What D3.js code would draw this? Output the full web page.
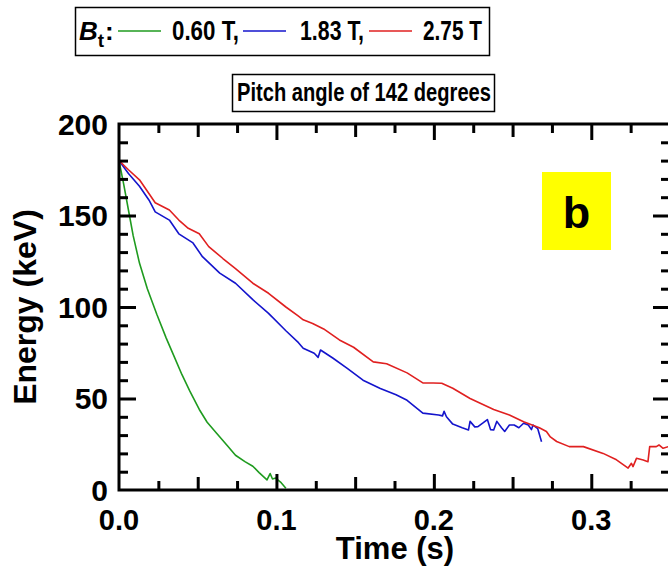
<!DOCTYPE html>
<head>
    <meta charset="utf-8">
    <title>Energy vs time, pitch angle 142</title>
    <style>
        body { margin: 0; background: #fff; }
        text { font-family: "Liberation Sans", Arial, sans-serif; font-weight: bold; fill: #000; }
        .line { fill: none; stroke-width: 1.6; stroke-linejoin: round; }
    </style>
</head>
<body>

<svg width="668" height="569"></svg>

<script src="https://d3js.org/d3.v7.min.js"></script>

<script>

// values
var fieldLabels = ['0.60 T,', '1.83 T,', '2.75 T'];
var colors = ['#1f9b1f', '#1414cc', '#e02020'];

var greenT = [0, 0.003, 0.006, 0.009, 0.013, 0.018, 0.024, 0.030, 0.035, 0.040, 0.045, 0.051, 0.056, 0.062, 0.069, 0.074, 0.080, 0.085, 0.089, 0.094, 0.096, 0.0975, 0.0995, 0.103, 0.106];
var greenE = [180, 167, 153, 139, 124, 110, 96, 83, 73, 63, 54, 44, 37, 31, 24, 19, 15.5, 13, 9.5, 5.5, 9, 6, 6.5, 4, 1];

var blueT = [0, 0.006, 0.013, 0.019, 0.023, 0.032, 0.038, 0.047, 0.053, 0.064, 0.074, 0.085, 0.095, 0.106, 0.114, 0.117, 0.124, 0.1265, 0.128, 0.136, 0.145, 0.155, 0.166, 0.176, 0.183, 0.193, 0.203, 0.2055, 0.2065, 0.208, 0.212, 0.218, 0.222, 0.223, 0.226, 0.228, 0.231, 0.234, 0.236, 0.238, 0.240, 0.243, 0.245, 0.248, 0.251, 0.254, 0.257, 0.260, 0.262, 0.263, 0.266, 0.2684];
var blueE = [180, 173, 166, 158.5, 152, 147.5, 140, 135, 127.5, 118.5, 113, 104, 96.5, 87, 80.5, 77.5, 74.7, 72.5, 76.5, 72, 66.5, 60, 55.5, 52, 49, 42, 41, 40.5, 43, 40, 36, 34, 32.8, 37.5, 34.5, 34.6, 36.5, 38.5, 33, 32.8, 37.5, 34, 32, 35.5, 35.5, 34, 36.5, 35.5, 33, 35.5, 33.5, 26.4];

var redT = [0, 0.006, 0.013, 0.019, 0.023, 0.032, 0.038, 0.044, 0.051, 0.057, 0.066, 0.074, 0.085, 0.095, 0.106, 0.114, 0.117, 0.123, 0.130, 0.140, 0.149, 0.1615, 0.170, 0.183, 0.193, 0.1995, 0.205, 0.212, 0.223, 0.238, 0.248, 0.257, 0.267, 0.2715, 0.274, 0.278, 0.286, 0.295, 0.3075, 0.316, 0.3234, 0.3255, 0.3265, 0.3287, 0.333, 0.336, 0.3371, 0.3413, 0.343, 0.3456, 0.349, 0.352];
var redE = [180, 175, 169.5, 162, 157, 153, 147.5, 143, 140, 133, 126.5, 121, 113, 107.5, 100, 95, 93, 91, 88, 82, 78, 70, 69, 64, 58.5, 58.5, 58.3, 55.6, 50, 44, 41, 37.3, 34, 32, 29, 26.5, 23.7, 23.7, 20, 16.5, 12, 14.6, 12.8, 17.3, 16.4, 15.5, 23.7, 23.7, 24.6, 22.8, 23.7, 23];

var xMajor = [0, 0.1, 0.2, 0.3];
var yMajor = [0, 50, 100, 150, 200];

var series = [
    { t: greenT, e: greenE },
    { t: blueT, e: blueE },
    { t: redT, e: redE }
];

var svg = d3.select('svg'),
    pLeft = 119, pRight = 670, pTop = 124, pBottom = 490;

var x = d3.scaleLinear().domain([0, 0.35]).range([pLeft, pRight]);
var y = d3.scaleLinear().domain([0, 200]).range([pBottom, pTop]);

svg.append('clipPath').attr('id', 'plotclip')
    .append('rect')
        .attr('x', pLeft).attr('y', pTop)
        .attr('width', pRight - pLeft).attr('height', pBottom - pTop);

// curves
var line = d3.line()
    .x(d => x(d[0]))
    .y(d => y(d[1]));

svg.append('g')
    .attr('clip-path', 'url(#plotclip)')
    .selectAll('.line')
    .data(series)
    .enter().append('path')
        .attr('class', 'line')
        .attr('stroke', (d, i) => colors[i])
        .attr('d', d => line(d.t.map((t, j) => [t, d.e[j]])));

// ticks on all four sides, pointing inward
function ticks(axis, values, size, pos) {
    var g = svg.append('g')
        .attr('transform', pos)
        .call(axis.tickValues(values).tickSize(-size).tickSizeOuter(0).tickFormat(''));
    g.select('.domain').remove();
    g.selectAll('.tick line').attr('stroke', '#000').attr('stroke-width', 3);
    return g;
}

var x25 = [0.025, 0.075, 0.125, 0.175, 0.225, 0.275, 0.325];
var x50 = [0.05, 0.15, 0.25];
var y10 = d3.range(10, 200, 10).filter(v => v % 50 != 0);
var yMid = [50, 100, 150];

ticks(d3.axisBottom(x), x25, 9, `translate(0,${pBottom})`);
ticks(d3.axisBottom(x), x50, 13, `translate(0,${pBottom})`);
ticks(d3.axisBottom(x), xMajor.slice(1), 16, `translate(0,${pBottom})`);
ticks(d3.axisTop(x), x25, 9, `translate(0,${pTop})`);
ticks(d3.axisTop(x), x50, 13, `translate(0,${pTop})`);
ticks(d3.axisTop(x), xMajor.slice(1), 16, `translate(0,${pTop})`);

ticks(d3.axisLeft(y), y10, 9, `translate(${pLeft},0)`);
ticks(d3.axisLeft(y), yMid, 17, `translate(${pLeft},0)`);
ticks(d3.axisRight(y), y10, 9, `translate(${pRight},0)`);
ticks(d3.axisRight(y), yMid, 17, `translate(${pRight},0)`);

// frame
svg.append('rect')
    .attr('x', pLeft).attr('y', pTop)
    .attr('width', pRight - pLeft).attr('height', pBottom - pTop)
    .attr('fill', 'none').attr('stroke', '#000').attr('stroke-width', 3);

// tick labels
svg.append('g').selectAll('text')
    .data(xMajor)
    .enter().append('text')
        .attr('x', d => x(d))
        .attr('y', 530)
        .attr('text-anchor', 'middle')
        .style('font-size', '29px')
        .text(d => d3.format('.1f')(d));

svg.append('g').selectAll('text')
    .data(yMajor)
    .enter().append('text')
        .attr('x', 108)
        .attr('y', d => y(d) + 10.5)
        .attr('text-anchor', 'end')
        .style('font-size', '30px')
        .text(d => d);

// axis titles
svg.append('text')
    .attr('x', 395).attr('y', 559)
    .attr('text-anchor', 'middle')
    .style('font-size', '31px')
    .text('Time (s)');

svg.append('text')
    .attr('transform', `translate(36,${(pTop + pBottom) / 2}) rotate(-90)`)
    .attr('text-anchor', 'middle')
    .style('font-size', '32px')
    .text('Energy (keV)');

// panel letter
svg.append('rect')
    .attr('x', 542).attr('y', 172)
    .attr('width', 69).attr('height', 78)
    .attr('fill', '#ffff00');
svg.append('text')
    .attr('x', 576.5).attr('y', 228)
    .attr('text-anchor', 'middle')
    .style('font-size', '45px')
    .text('b');

// pitch angle box
svg.append('rect')
    .attr('x', 232.5).attr('y', 74.5)
    .attr('width', 262).attr('height', 37)
    .attr('fill', '#fff').attr('stroke', '#000').attr('stroke-width', 1.5);
svg.append('text')
    .attr('x', 237).attr('y', 101)
    .attr('textLength', 254).attr('lengthAdjust', 'spacingAndGlyphs')
    .style('font-size', '26px')
    .text('Pitch angle of 142 degrees');

// legend
var legend = svg.append('g');
legend.append('rect')
    .attr('x', 75.5).attr('y', 7.5)
    .attr('width', 414).attr('height', 48)
    .attr('fill', '#fff').attr('stroke', '#000').attr('stroke-width', 1.5);

var bt = legend.append('text').attr('x', 79).attr('y', 40).style('font-size', '26px');
bt.append('tspan').style('font-style', 'italic').text('B');
bt.append('tspan').attr('dy', 7).style('font-size', '19px').text('t');
legend.append('text').attr('x', 105).attr('y', 40).style('font-size', '26px').text(':');

var lineX = [118, 243, 369];
var textX = [172, 300, 423];
var textW = [67, 64, 59];

legend.selectAll('line.key')
    .data(fieldLabels)
    .enter().append('line')
        .attr('class', 'key')
        .attr('x1', (d, i) => lineX[i]).attr('x2', (d, i) => lineX[i] + 43)
        .attr('y1', 31).attr('y2', 31)
        .attr('stroke', (d, i) => colors[i])
        .attr('stroke-width', 1.6);

legend.selectAll('text.key')
    .data(fieldLabels)
    .enter().append('text')
        .attr('class', 'key')
        .attr('x', (d, i) => textX[i]).attr('y', 40)
        .attr('textLength', (d, i) => textW[i]).attr('lengthAdjust', 'spacingAndGlyphs')
        .style('font-size', '27px')
        .text(d => d);

</script>

</body>
